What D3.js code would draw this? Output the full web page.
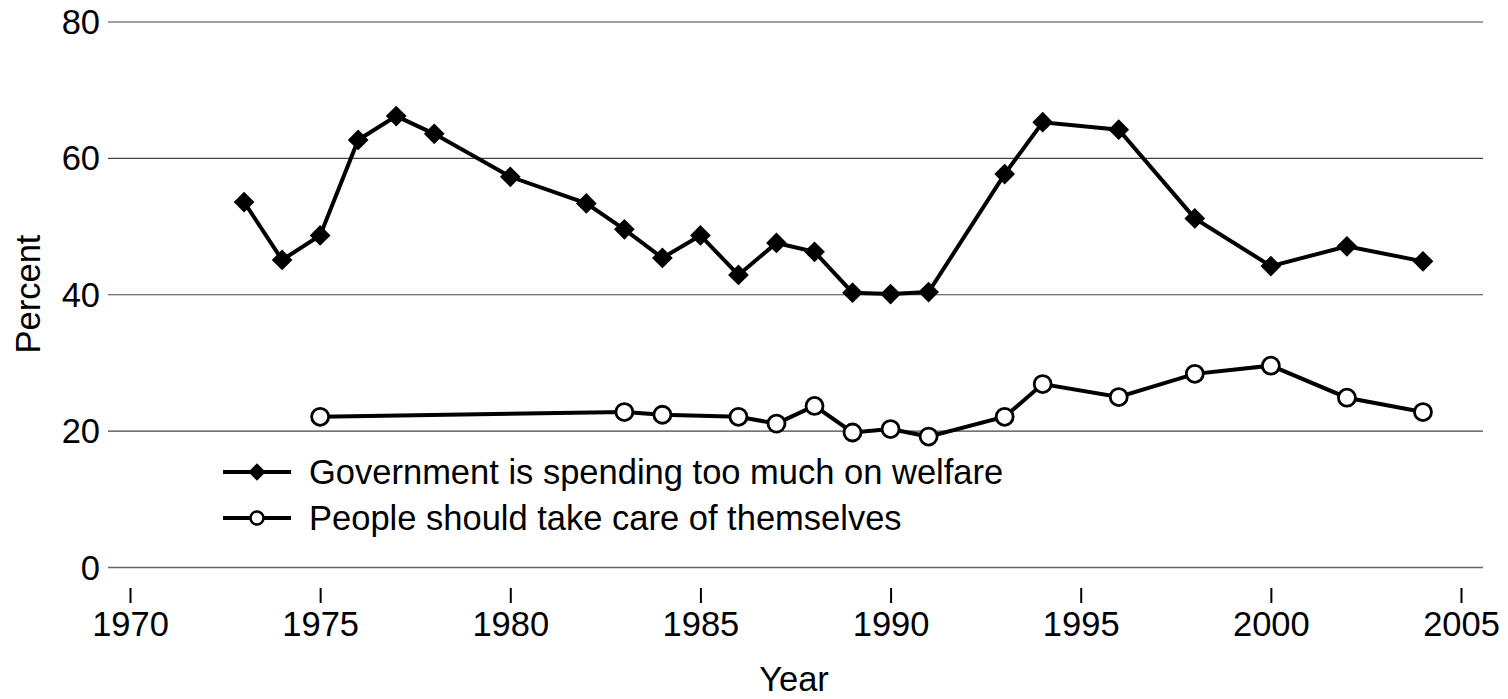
<!DOCTYPE html>
<html><head><meta charset="utf-8">
<script src="https://cdn.jsdelivr.net/npm/d3@7"></script>
<style>
html,body{margin:0;padding:0;background:#fff;}
svg{display:block;font-family:"Liberation Sans",Arial,sans-serif;}
</style></head>
<body><svg id="c" width="1508" height="699"></svg>
<script>
const govYears = [1973,1974,1975,1976,1977,1978,1980,1982,1983,1984,1985,1986,1987,1988,1989,1990,1991,1993,1994,1996,1998,2000,2002,2004];
const govValues = [53.6,45.1,48.7,62.7,66.2,63.6,57.3,53.4,49.6,45.4,48.7,42.9,47.6,46.3,40.3,40.1,40.4,57.7,65.3,64.2,51.2,44.2,47.1,44.9];
const peopleYears = [1975,1983,1984,1986,1987,1988,1989,1990,1991,1993,1994,1996,1998,2000,2002,2004];
const peopleValues = [22.1,22.8,22.4,22.1,21.1,23.7,19.8,20.3,19.2,22.1,26.9,25.0,28.4,29.6,24.9,22.8];
const xTicks = [1970,1975,1980,1985,1990,1995,2000,2005];
const yTicks = [0,20,40,60,80];
const seriesNames = ["Government is spending too much on welfare","People should take care of themselves"];

const svg = d3.select("#c");
const x = d3.scaleLinear().domain([1970,2005]).range([130,1461]);
const y = d3.scaleLinear().domain([0,80]).range([567.5,22]);
const gridX0 = 108, gridX1 = 1483;
const FS = 34.5;

// gridlines
svg.append("g").selectAll("line").data(yTicks).join("line")
  .attr("x1",gridX0).attr("x2",gridX1)
  .attr("y1",d=>y(d)).attr("y2",d=>y(d))
  .attr("stroke",d=>d===0?"#666":"#444").attr("stroke-width",d=>d===0?1.6:1.2);

// y labels
svg.append("g").selectAll("text").data(yTicks).join("text")
  .attr("x",100).attr("y",d=>y(d)).attr("dy","0.35em")
  .attr("text-anchor","end").attr("font-size",FS).attr("fill","#000").text(d=>d);

// x axis
const xAxis = d3.axisBottom(x).tickValues(xTicks).tickFormat(d3.format("d")).tickSize(15).tickPadding(9);
const gx = svg.append("g").attr("transform","translate(0,588)").call(xAxis);
gx.select(".domain").remove();
gx.selectAll(".tick line").attr("stroke","#000").attr("stroke-width",2);
gx.selectAll(".tick text").attr("font-size",FS).attr("fill","#000").attr("font-family","Liberation Sans, Arial, sans-serif");

// axis titles
svg.append("text").attr("x",794).attr("y",691).attr("text-anchor","middle").attr("font-size",FS).text("Year");
svg.append("text").attr("transform","translate(40,294) rotate(-90)").attr("text-anchor","middle").attr("font-size",FS).text("Percent");

const line = d3.line().x(d=>x(d[0])).y(d=>y(d[1]));
const gov = govYears.map((yr,i)=>[yr,govValues[i]]);
const ppl = peopleYears.map((yr,i)=>[yr,peopleValues[i]]);

svg.append("path").datum(ppl).attr("d",line).attr("fill","none").attr("stroke","#000").attr("stroke-width",4);
svg.append("path").datum(gov).attr("d",line).attr("fill","none").attr("stroke","#000").attr("stroke-width",4);

const diamond = d3.symbol().type(d3.symbolSquare).size(215);
svg.append("g").selectAll("path").data(gov).join("path")
  .attr("d",diamond).attr("transform",d=>`translate(${x(d[0])},${y(d[1])}) rotate(45)`)
  .attr("fill","#000");

svg.append("g").selectAll("circle").data(ppl).join("circle")
  .attr("cx",d=>x(d[0])).attr("cy",d=>y(d[1])).attr("r",8.5)
  .attr("fill","#fff").attr("stroke","#000").attr("stroke-width",2.8);

// legend
const leg = svg.append("g");
const legY = [472,518];
seriesNames.forEach((name,i)=>{
  leg.append("line").attr("x1",223).attr("x2",291).attr("y1",legY[i]).attr("y2",legY[i]).attr("stroke","#000").attr("stroke-width",4);
  if(i===0){
    leg.append("path").attr("d",d3.symbol().type(d3.symbolSquare).size(150)).attr("transform",`translate(257,${legY[i]}) rotate(45)`).attr("fill","#000");
  } else {
    leg.append("circle").attr("cx",257).attr("cy",legY[i]).attr("r",6.5).attr("fill","#fff").attr("stroke","#000").attr("stroke-width",2.5);
  }
  leg.append("text").attr("x",309).attr("y",legY[i]).attr("dy","0.35em").attr("font-size",FS).text(name);
});
</script></body></html>
